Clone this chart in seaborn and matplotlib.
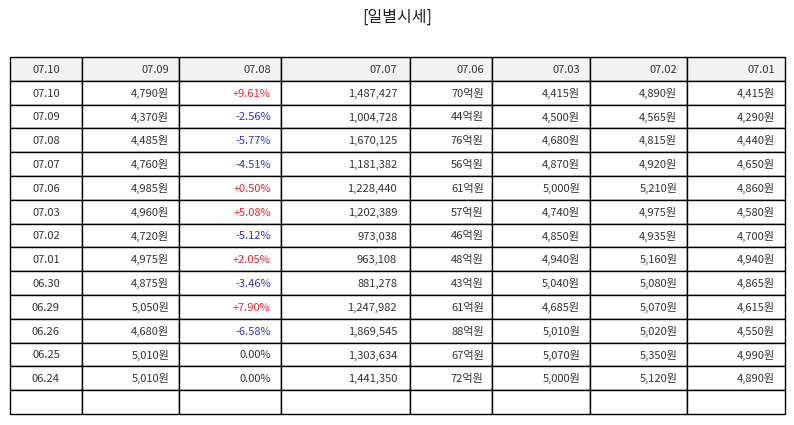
import matplotlib.pyplot as plt
import matplotlib.transforms as mtransforms
import seaborn as sns

# 일별시세 데이터
header = ['07.10', '07.09', '07.08', '07.07', '07.06', '07.03', '07.02', '07.01']
dates = ['07.10', '07.09', '07.08', '07.07', '07.06', '07.03', '07.02', '07.01',
         '06.30', '06.29', '06.26', '06.25', '06.24']
close = ['4,790원', '4,370원', '4,485원', '4,760원', '4,985원', '4,960원', '4,720원',
         '4,975원', '4,875원', '5,050원', '4,680원', '5,010원', '5,010원']
change = ['+9.61%', '-2.56%', '-5.77%', '-4.51%', '+0.50%', '+5.08%', '-5.12%',
          '+2.05%', '-3.46%', '+7.90%', '-6.58%', '0.00%', '0.00%']
volume = ['1,487,427', '1,004,728', '1,670,125', '1,181,382', '1,228,440', '1,202,389',
          '973,038', '963,108', '881,278', '1,247,982', '1,869,545', '1,303,634', '1,441,350']
amount = ['70억원', '44억원', '76억원', '56억원', '61억원', '57억원', '46억원',
          '48억원', '43억원', '61억원', '88억원', '67억원', '72억원']
open_ = ['4,415원', '4,500원', '4,680원', '4,870원', '5,000원', '4,740원', '4,850원',
         '4,940원', '5,040원', '4,685원', '5,010원', '5,070원', '5,000원']
high = ['4,890원', '4,565원', '4,815원', '4,920원', '5,210원', '4,975원', '4,935원',
        '5,160원', '5,080원', '5,070원', '5,020원', '5,350원', '5,120원']
low = ['4,415원', '4,290원', '4,440원', '4,650원', '4,860원', '4,580원', '4,700원',
       '4,940원', '4,865원', '4,615원', '4,550원', '4,990원', '4,890원']

sns.set_theme(style='white')
plt.rcParams['font.family'] = ['Noto Sans CJK KR', 'DejaVu Sans']

rows = [list(r) for r in zip(dates, close, change, volume, amount, open_, high, low)]
rows.append([''] * len(header))

col_w = [72, 97, 102, 129, 82, 98, 97, 98]
col_w = [w / sum(col_w) for w in col_w]

fig = plt.figure(figsize=(7.94, 4.25), dpi=100)
ax = fig.add_axes([0, 0, 1, 1])
ax.axis('off')

fig.text(0.5, 0.96, '[일별시세]', ha='center', va='center', fontsize=11.5, color='#222222')

tbl = ax.table(cellText=rows, colLabels=header, colWidths=col_w,
               cellLoc='right', colLoc='right', loc='center',
               bbox=[10 / 794, 11 / 425, 775 / 794, 357 / 425])
tbl.auto_set_font_size(False)

# 글자 기준선을 셀 중앙 아래로 내려서 모든 셀의 높이를 맞춤
shift = mtransforms.Affine2D().translate(0, -4)

for (r, c), cell in tbl.get_celld().items():
    cell.set_edgecolor('black')
    cell.set_linewidth(1.0)
    txt = cell.get_text()
    txt.set_fontsize(8)
    txt.set_color('#333333')
    txt.set_va('baseline')
    txt.set_transform(shift)
    if c == 0:
        txt.set_ha('center')
        cell._loc = 'center'
    if r == 0:
        cell.set_facecolor('#f2f2f2')
    elif c == 2:
        val = txt.get_text()
        if val.startswith('+'):
            txt.set_color('#e8262e')
        elif val.startswith('-'):
            txt.set_color('#3333cc')

fig.savefig('out.png', dpi=100)
